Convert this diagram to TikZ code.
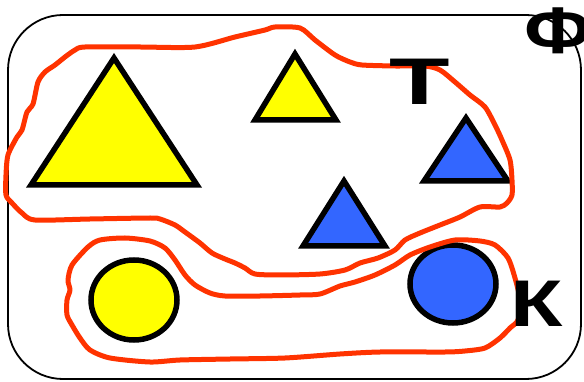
\documentclass[tikz,border=0pt]{standalone}
\usepackage{fontspec}
\usepackage{graphicx}
\newfontfamily\letterfont{Liberation Sans}
\definecolor{tyellow}{HTML}{FFFF00}
\definecolor{tblue}{HTML}{3366FF}
\definecolor{tred}{HTML}{FF3300}
\tikzset{
  shapeline/.style={line width=5.5pt, draw=black, line join=miter},
  loopline/.style={line width=5pt, draw=tred, line join=round},
  frameline/.style={line width=1.8pt, draw=black, rounded corners=55pt},
  letter/.style={inner sep=0pt, font=\letterfont\bfseries\fontsize{66}{66}\selectfont}
}
\begin{document}
\begin{tikzpicture}[x=1pt,y=-1pt]
\useasboundingbox (0,0) rectangle (584,382);
% frame
\draw[frameline] (8,15) rectangle (581,379);
% shapes
\filldraw[shapeline, fill=tyellow] (114,58) -- (31,185) -- (197,185) -- cycle;
\filldraw[shapeline, fill=tyellow] (295,54) -- (255,120) -- (336,120) -- cycle;
\filldraw[shapeline, fill=tblue] (466,118) -- (424,181) -- (508,181) -- cycle;
\filldraw[shapeline, fill=tblue] (344,181) -- (303,246) -- (385,246) -- cycle;
\filldraw[shapeline, fill=tyellow] (134,300) ellipse [x radius=43, y radius=40];
\filldraw[shapeline, fill=tblue] (453,284) ellipse [x radius=43, y radius=39];
% red loops
\draw[loopline] plot[smooth cycle, tension=0.45] coordinates {
(75,50) (85,47) (140,47) (195,47) (235,37) (265,30) (275,27) (300,28) (315,40)
(335,55) (350,62) (362,65) (395,66) (425,66) (440,70) (455,82) (470,95) (485,107)
(495,125) (502,140) (510,160) (512,180) (512,195) (507,203) (500,207) (480,207)
(460,217) (440,225) (420,233) (405,240) (395,250) (378,258) (360,263) (345,270)
(320,274) (280,275) (255,274) (245,268) (235,263) (225,259) (212,253) (200,243)
(185,232) (175,225) (160,219) (150,218) (90,219) (35,220) (22,213) (12,203)
(6,195) (6,175) (8,155) (17,137) (22,130) (27,112) (33,104) (38,82) (45,72)
(55,65) (65,57)};
\draw[loopline] plot[smooth cycle, tension=0.45] coordinates {
(100,240) (125,238) (150,241) (165,248) (175,260) (185,275) (195,285) (210,293)
(225,296) (260,296) (300,295) (320,294) (340,286) (355,282) (375,275) (395,265)
(410,255) (430,247) (455,240) (480,241) (495,245) (508,258) (515,278) (520,300)
(518,320) (510,328) (500,338) (485,348) (465,351) (445,352) (380,352) (340,354)
(285,358) (230,359) (180,360) (150,362) (110,358) (90,350) (80,338) (72,325)
(67,315) (67,300) (70,290) (68,280) (72,265) (88,247)};
% letters
\node[letter] (lt) at (420,82) {\scalebox{1.5}[1]{Т}};
\node[letter] (lk) at (537,304) {\scalebox{1.3}[1]{К}};
\node[letter] (lf) at (558,31) {\scalebox{1.2}[1]{Ф}};
\end{tikzpicture}
\end{document}
